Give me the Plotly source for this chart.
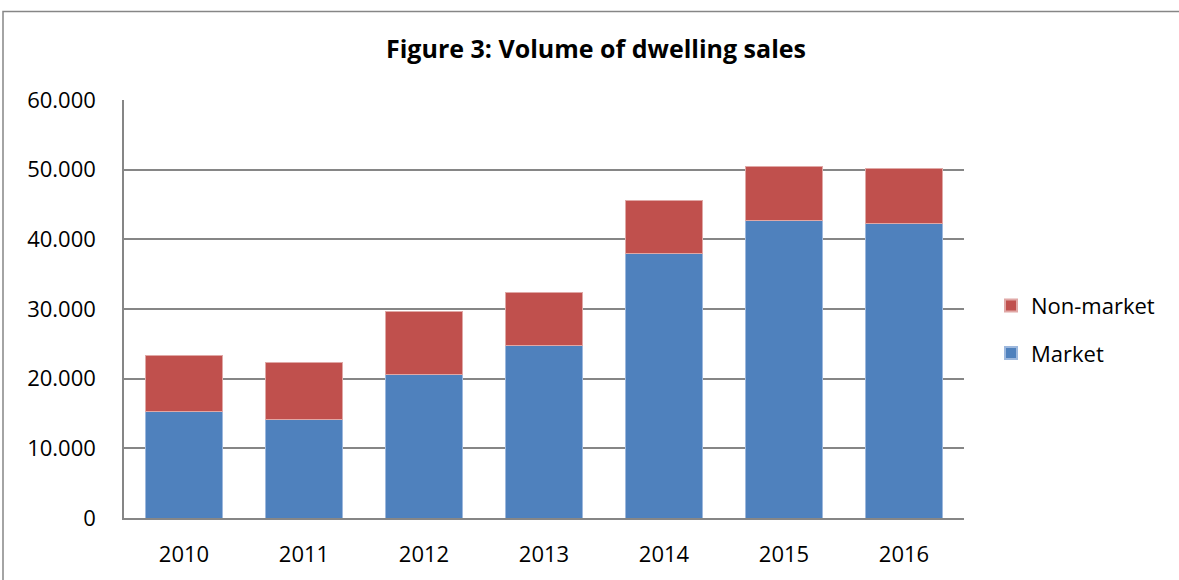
import plotly.graph_objects as go

years = ["2010", "2011", "2012", "2013", "2014", "2015", "2016"]
market = [15250, 14200, 20600, 24800, 38000, 42700, 42300]
non_market = [8050, 8100, 9100, 7600, 7600, 7800, 7800]
y_ticks = [0, 10000, 20000, 30000, 40000, 50000, 60000]
y_tick_labels = ["0", "10.000", "20.000", "30.000", "40.000", "50.000", "60.000"]

W, H = 1179, 580
L, R, T, B = 124, 215, 100, 60
pw, ph = W - L - R, H - T - B

def px(x):
    return (x - L) / pw

def py(y):
    return (H - B - y) / ph

FONT = "Open Sans, Lato, sans-serif"

fig = go.Figure()
fig.add_trace(go.Bar(x=years, y=market, name="Market", legendgroup="m", legendrank=2,
                     marker=dict(color="#4F81BD", line=dict(color="#9DB8DD", width=1))))
fig.add_trace(go.Bar(x=years, y=non_market, name="Non-market", legendgroup="n", legendrank=1,
                     marker=dict(color="#C0504D", line=dict(color="#E0A8A6", width=1))))

fig.update_layout(
    barmode="stack",
    bargap=0.353,
    width=W, height=H,
    margin=dict(l=L, r=R, t=T, b=B),
    plot_bgcolor="white",
    paper_bgcolor="white",
    font=dict(family=FONT, size=22, color="black"),
    title=dict(text="<b>Figure 3: Volume of dwelling sales</b>",
               x=px(596), xref="paper", xanchor="center",
               y=1 - 49 / H, yanchor="middle",
               font=dict(size=25, family=FONT)),
    legend=dict(x=px(991), xanchor="left", y=py(285.5), yanchor="top",
                traceorder="grouped", font=dict(size=22),
                itemwidth=30, tracegroupgap=16, itemsizing="constant"),
    showlegend=True,
)
fig.update_xaxes(showline=True, linecolor="#868686", linewidth=1.5,
                 ticks="", ticklabelstandoff=16, tickfont=dict(size=22))
fig.update_yaxes(range=[0, 60000], tickvals=y_ticks, ticktext=y_tick_labels,
                 showgrid=True, gridcolor="#868686", gridwidth=1.5,
                 showline=True, linecolor="#868686", linewidth=1.5,
                 ticks="", ticklabelstandoff=22,
                 zeroline=False, tickfont=dict(size=22))

fig.add_shape(type="rect", xref="paper", yref="paper",
              x0=px(3), x1=px(1190), y0=py(600), y1=py(11),
              line=dict(color="#868686", width=1.5), fillcolor="rgba(0,0,0,0)",
              layer="below")

fig.write_html("out.html", config={"displayModeBar": False},
               post_script="document.body.style.margin='0';")
